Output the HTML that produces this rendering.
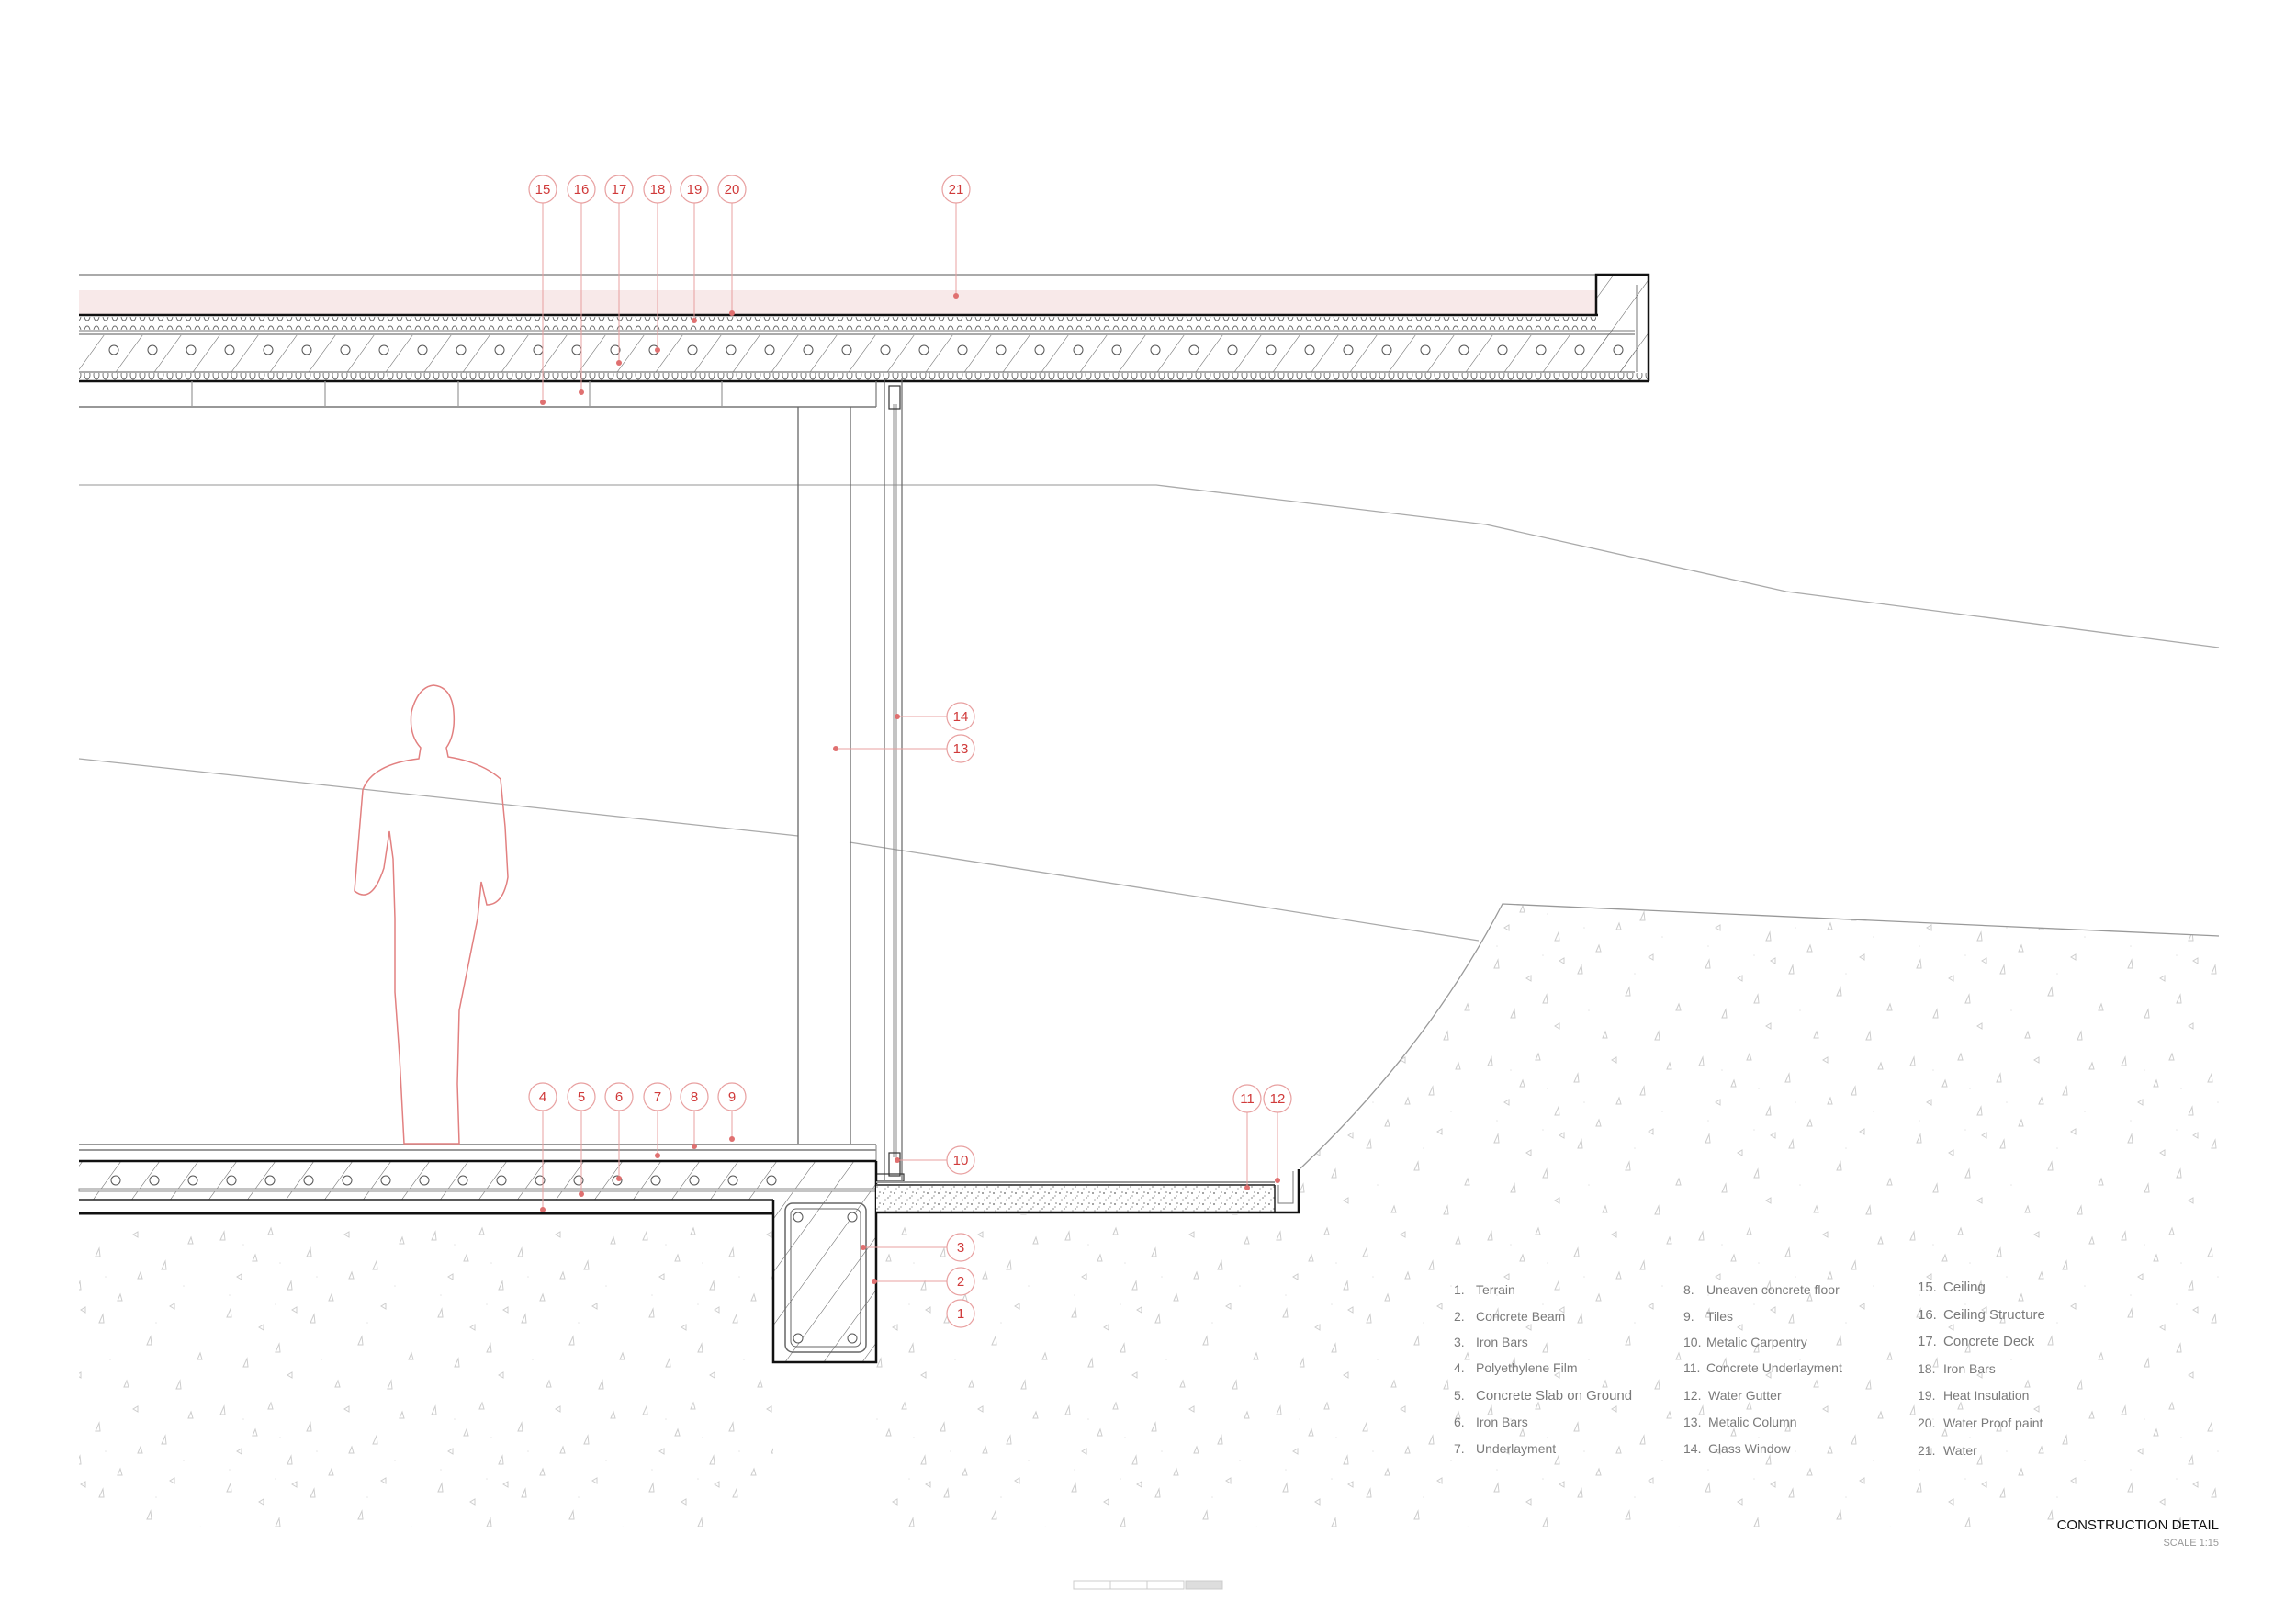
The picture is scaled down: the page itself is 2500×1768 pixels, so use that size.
<!DOCTYPE html>
<html><head><meta charset="utf-8"><style>
html,body{margin:0;padding:0;background:#fff}
svg{display:block}
.lg{font-family:"Liberation Sans",sans-serif;font-size:14px;fill:#7a7a7a}
.cn{font-family:"Liberation Sans",sans-serif;font-size:15px;fill:#d03a3a;text-anchor:middle}
</style></head><body>
<svg width="2500" height="1768" viewBox="0 0 2500 1768" xmlns="http://www.w3.org/2000/svg">
<defs>
<pattern id="hatch" width="42" height="40" patternUnits="userSpaceOnUse" patternTransform="skewX(-36)">
<line x1="0" y1="0" x2="0" y2="40" stroke="#555" stroke-width="1.2"/>
</pattern>
<pattern id="soil" width="230" height="190" patternUnits="userSpaceOnUse">
<g fill="none" stroke="#cdcdcd" stroke-width="1">
<path d="M10 20 l4 -9 l1 9 z"/><path d="M62 14 l3 -7 l2 7 z"/><path d="M104 38 l4 -9 l1 9 z"/>
<path d="M33 63 l-5 -3 l5 -3 z"/><path d="M83 74 l4 -9 l1 9 z"/><path d="M128 86 l3 -7 l2 7 z"/>
<path d="M17 104 l4 -9 l1 9 z"/><path d="M57 118 l-5 -3 l5 -3 z"/><path d="M108 110 l4 -9 l1 9 z"/>
<path d="M150 17 l-5 -3 l5 -3 z"/><path d="M45 43 l3 -7 l2 7 z"/><path d="M93 99 l-5 -3 l5 -3 z"/>
<path d="M176 52 l4 -9 l1 9 z"/><path d="M205 24 l3 -7 l2 7 z"/><path d="M190 95 l-5 -3 l5 -3 z"/>
<path d="M160 134 l4 -9 l1 9 z"/><path d="M215 150 l3 -7 l2 7 z"/><path d="M35 158 l4 -9 l1 9 z"/>
<path d="M88 170 l-5 -3 l5 -3 z"/><path d="M135 180 l3 -7 l2 7 z"/><path d="M192 182 l4 -9 l1 9 z"/>
<path d="M150 62 l3 -7 l2 7 z"/><path d="M70 142 l4 -9 l1 9 z"/>
</g>
<g fill="#e6e6e6"><circle cx="35" cy="25" r="0.8"/><circle cx="75" cy="45" r="0.8"/><circle cx="115" cy="60" r="0.8"/><circle cx="20" cy="80" r="0.8"/><circle cx="70" cy="90" r="0.8"/><circle cx="170" cy="110" r="0.8"/><circle cx="200" cy="70" r="0.8"/><circle cx="120" cy="150" r="0.8"/></g>
</pattern>
<pattern id="ins" width="10" height="16" patternUnits="userSpaceOnUse">
<ellipse cx="5" cy="8" rx="3" ry="5" fill="none" stroke="#666" stroke-width="0.9"/>
</pattern>
<pattern id="spk" width="12" height="12" patternUnits="userSpaceOnUse">
<rect width="12" height="12" fill="#fff"/>
<circle cx="2" cy="3" r="1" fill="#888"/><circle cx="7" cy="8" r="0.9" fill="#999"/><circle cx="10" cy="2" r="0.8" fill="#777"/><circle cx="4" cy="10" r="0.8" fill="#aaa"/><circle cx="9" cy="6" r="0.6" fill="#666"/>
</pattern>
</defs>

<!-- soil -->
<rect x="86" y="1322" width="756" height="340" fill="url(#soil)"/>
<rect x="954" y="1322" width="460" height="340" fill="url(#soil)"/>
<path d="M1416 1272 Q1555 1140 1636 984 L2416 1019 L2416 1662 L1414 1662 Z" fill="url(#soil)"/>

<!-- thin gray landscape lines -->
<polyline points="86,528 1259,528 1618,571 1945,644 2416,705" fill="none" stroke="#aaa" stroke-width="1.3"/>
<line x1="86" y1="826" x2="869" y2="910" stroke="#aaa" stroke-width="1.3"/>
<line x1="925" y1="917" x2="1610" y2="1024" stroke="#aaa" stroke-width="1.3"/>
<path d="M1416 1272 Q1555 1140 1636 984 L2416 1019" fill="none" stroke="#999" stroke-width="1.3"/>

<!-- ROOF -->
<line x1="86" y1="299" x2="1740" y2="299" stroke="#aaa" stroke-width="2"/>
<rect x="86" y="316" width="1652" height="26" fill="#f8e9e9"/>
<line x1="86" y1="343" x2="1740" y2="343" stroke="#111" stroke-width="2.5"/>
<rect x="86" y="345" width="1652" height="14" fill="url(#ins)"/>
<line x1="86" y1="360" x2="1780" y2="360" stroke="#777" stroke-width="1"/>
<line x1="86" y1="364" x2="1780" y2="364" stroke="#777" stroke-width="1.2"/>
<rect x="86" y="365" width="1694" height="40" fill="url(#hatch)"/>
<g fill="#fff" stroke="#555" stroke-width="1">
<circle cx="124" cy="381" r="5"/><circle cx="166" cy="381" r="5"/><circle cx="208" cy="381" r="5"/><circle cx="250" cy="381" r="5"/><circle cx="292" cy="381" r="5"/><circle cx="334" cy="381" r="5"/><circle cx="376" cy="381" r="5"/><circle cx="418" cy="381" r="5"/><circle cx="460" cy="381" r="5"/><circle cx="502" cy="381" r="5"/><circle cx="544" cy="381" r="5"/><circle cx="586" cy="381" r="5"/><circle cx="628" cy="381" r="5"/><circle cx="670" cy="381" r="5"/><circle cx="712" cy="381" r="5"/><circle cx="754" cy="381" r="5"/><circle cx="796" cy="381" r="5"/><circle cx="838" cy="381" r="5"/><circle cx="880" cy="381" r="5"/><circle cx="922" cy="381" r="5"/><circle cx="964" cy="381" r="5"/><circle cx="1006" cy="381" r="5"/><circle cx="1048" cy="381" r="5"/><circle cx="1090" cy="381" r="5"/><circle cx="1132" cy="381" r="5"/><circle cx="1174" cy="381" r="5"/><circle cx="1216" cy="381" r="5"/><circle cx="1258" cy="381" r="5"/><circle cx="1300" cy="381" r="5"/><circle cx="1342" cy="381" r="5"/><circle cx="1384" cy="381" r="5"/><circle cx="1426" cy="381" r="5"/><circle cx="1468" cy="381" r="5"/><circle cx="1510" cy="381" r="5"/><circle cx="1552" cy="381" r="5"/><circle cx="1594" cy="381" r="5"/><circle cx="1636" cy="381" r="5"/><circle cx="1678" cy="381" r="5"/><circle cx="1720" cy="381" r="5"/><circle cx="1762" cy="381" r="5"/>
</g>
<line x1="86" y1="405" x2="1780" y2="405" stroke="#777" stroke-width="1.2"/>
<rect x="86" y="406" width="1708" height="8" fill="url(#ins)"/>
<line x1="86" y1="415" x2="1795" y2="415" stroke="#111" stroke-width="2.5"/>
<!-- parapet -->
<rect x="1738" y="300" width="42" height="105" fill="url(#hatch)"/>
<rect x="1780" y="300" width="15" height="115" fill="url(#hatch)"/>
<polyline points="1738,343 1738,299 1795,299 1795,415" fill="none" stroke="#111" stroke-width="2.5"/>
<line x1="1782" y1="310" x2="1782" y2="405" stroke="#777" stroke-width="1"/>

<!-- ceiling -->
<line x1="86" y1="443" x2="954" y2="443" stroke="#777" stroke-width="1.5"/>
<line x1="954" y1="415" x2="954" y2="443" stroke="#777" stroke-width="1.2"/>
<g stroke="#999" stroke-width="1.2"><line x1="209" y1="415" x2="209" y2="443"/><line x1="354" y1="415" x2="354" y2="443"/><line x1="499" y1="415" x2="499" y2="443"/><line x1="642" y1="415" x2="642" y2="443"/><line x1="786" y1="415" x2="786" y2="443"/></g>

<!-- column -->
<line x1="869" y1="443" x2="869" y2="1246" stroke="#666" stroke-width="1.3"/>
<line x1="926" y1="443" x2="926" y2="1246" stroke="#666" stroke-width="1.3"/>
<!-- window -->
<line x1="963" y1="412" x2="963" y2="1285" stroke="#666" stroke-width="1.2"/>
<line x1="982" y1="412" x2="982" y2="1285" stroke="#666" stroke-width="1.2"/>
<line x1="973" y1="440" x2="973" y2="1260" stroke="#888" stroke-width="1"/>
<line x1="976" y1="440" x2="976" y2="1260" stroke="#888" stroke-width="1"/>
<rect x="968" y="420" width="12" height="25" fill="none" stroke="#333" stroke-width="1.2"/>
<rect x="968" y="1255" width="12" height="25" fill="none" stroke="#333" stroke-width="1.2"/>
<rect x="954" y="1278" width="30" height="8" fill="none" stroke="#333" stroke-width="1.2"/>

<!-- FLOOR -->
<line x1="86" y1="1246" x2="954" y2="1246" stroke="#999" stroke-width="2"/>
<line x1="86" y1="1252" x2="954" y2="1252" stroke="#999" stroke-width="2"/>
<line x1="954" y1="1246" x2="954" y2="1264" stroke="#999" stroke-width="1.2"/>
<rect x="86" y="1264" width="868" height="42" fill="url(#hatch)"/>
<g fill="#fff" stroke="#555" stroke-width="1">
<circle cx="126" cy="1285" r="5"/><circle cx="168" cy="1285" r="5"/><circle cx="210" cy="1285" r="5"/><circle cx="252" cy="1285" r="5"/><circle cx="294" cy="1285" r="5"/><circle cx="336" cy="1285" r="5"/><circle cx="378" cy="1285" r="5"/><circle cx="420" cy="1285" r="5"/><circle cx="462" cy="1285" r="5"/><circle cx="504" cy="1285" r="5"/><circle cx="546" cy="1285" r="5"/><circle cx="588" cy="1285" r="5"/><circle cx="630" cy="1285" r="5"/><circle cx="672" cy="1285" r="5"/><circle cx="714" cy="1285" r="5"/><circle cx="756" cy="1285" r="5"/><circle cx="798" cy="1285" r="5"/><circle cx="840" cy="1285" r="5"/>
</g>
<line x1="86" y1="1264" x2="954" y2="1264" stroke="#111" stroke-width="2.5"/>
<rect x="86" y="1294" width="868" height="3" fill="#fff" stroke="#888" stroke-width="1"/>
<line x1="86" y1="1306" x2="842" y2="1306" stroke="#222" stroke-width="1.5"/>
<line x1="86" y1="1321" x2="842" y2="1321" stroke="#111" stroke-width="3"/>
<!-- beam -->
<rect x="842" y="1306" width="112" height="177" fill="url(#hatch)"/>
<polyline points="842,1306 842,1483 954,1483 954,1264" fill="none" stroke="#111" stroke-width="2.5"/>
<rect x="855" y="1310" width="88" height="162" rx="8" fill="none" stroke="#666" stroke-width="1.5"/>
<rect x="861" y="1316" width="76" height="150" rx="6" fill="none" stroke="#666" stroke-width="1"/>
<g fill="#fff" stroke="#555" stroke-width="1"><circle cx="869" cy="1325" r="5"/><circle cx="928" cy="1325" r="5"/><circle cx="869" cy="1457" r="5"/><circle cx="928" cy="1457" r="5"/></g>
<!-- exterior underlayment -->
<rect x="954" y="1289" width="434" height="31" fill="url(#spk)"/>
<line x1="954" y1="1287" x2="1388" y2="1287" stroke="#999" stroke-width="2"/>
<line x1="954" y1="1290" x2="1388" y2="1290" stroke="#222" stroke-width="1.5"/>
<line x1="1388" y1="1290" x2="1388" y2="1320" stroke="#222" stroke-width="1.5"/>
<polyline points="954,1320 1414,1320 1414,1273" fill="none" stroke="#111" stroke-width="2.5"/>
<polyline points="1392,1290 1392,1310 1408,1310 1408,1275" fill="none" stroke="#777" stroke-width="1"/>

<!-- person -->
<g fill="none" stroke="#e28080" stroke-width="1.5">
<path d="M458,814 Q445,800 448,775 Q455,748 472,746 Q492,748 494,775 Q496,800 486,814 L488,824 Q525,830 545,848 L550,900 L553,955 Q548,985 530,985 L524,960 L520,1000 L508,1060 L500,1100 L498,1180 L500,1245 L440,1245 L435,1150 L430,1080 L430,1000 L428,935 L424,905 L418,945 Q405,985 386,970 L390,920 L395,860 Q405,832 456,826 Z"/>
</g>

<!-- callouts -->
<g stroke="#e8a0a0" stroke-width="1" fill="none">
<line x1="591" y1="221" x2="591" y2="438"/><line x1="633" y1="221" x2="633" y2="427"/><line x1="674" y1="221" x2="674" y2="395"/><line x1="716" y1="221" x2="716" y2="381"/><line x1="756" y1="221" x2="756" y2="349"/><line x1="797" y1="221" x2="797" y2="341"/><line x1="1041" y1="221" x2="1041" y2="322"/>
<line x1="591" y1="1209" x2="591" y2="1317"/><line x1="633" y1="1209" x2="633" y2="1300"/><line x1="674" y1="1209" x2="674" y2="1283"/><line x1="716" y1="1209" x2="716" y2="1258"/><line x1="756" y1="1209" x2="756" y2="1248"/><line x1="797" y1="1209" x2="797" y2="1240"/>
<line x1="1358" y1="1211" x2="1358" y2="1293"/><line x1="1391" y1="1211" x2="1391" y2="1285"/>
<line x1="977" y1="1263" x2="1031" y2="1263"/><line x1="977" y1="780" x2="1031" y2="780"/><line x1="910" y1="815" x2="1031" y2="815"/><line x1="940" y1="1358" x2="1031" y2="1358"/><line x1="952" y1="1395" x2="1031" y2="1395"/>
</g>
<g fill="#e07070">
<circle cx="591" cy="438" r="3"/><circle cx="633" cy="427" r="3"/><circle cx="674" cy="395" r="3"/><circle cx="716" cy="381" r="3"/><circle cx="756" cy="349" r="3"/><circle cx="797" cy="341" r="3"/><circle cx="1041" cy="322" r="3"/>
<circle cx="591" cy="1317" r="3"/><circle cx="633" cy="1300" r="3"/><circle cx="674" cy="1283" r="3"/><circle cx="716" cy="1258" r="3"/><circle cx="756" cy="1248" r="3"/><circle cx="797" cy="1240" r="3"/>
<circle cx="1358" cy="1293" r="3"/><circle cx="1391" cy="1285" r="3"/>
<circle cx="977" cy="1263" r="3"/><circle cx="977" cy="780" r="3"/><circle cx="910" cy="815" r="3"/><circle cx="940" cy="1358" r="3"/><circle cx="952" cy="1395" r="3"/>
</g>
<g fill="#fff" stroke="#e8a0a0" stroke-width="1.2">
<circle cx="591" cy="206" r="15"/><circle cx="633" cy="206" r="15"/><circle cx="674" cy="206" r="15"/><circle cx="716" cy="206" r="15"/><circle cx="756" cy="206" r="15"/><circle cx="797" cy="206" r="15"/><circle cx="1041" cy="206" r="15"/>
<circle cx="591" cy="1194" r="15"/><circle cx="633" cy="1194" r="15"/><circle cx="674" cy="1194" r="15"/><circle cx="716" cy="1194" r="15"/><circle cx="756" cy="1194" r="15"/><circle cx="797" cy="1194" r="15"/>
<circle cx="1358" cy="1196" r="15"/><circle cx="1391" cy="1196" r="15"/>
<circle cx="1046" cy="1263" r="15"/><circle cx="1046" cy="780" r="15"/><circle cx="1046" cy="815" r="15"/><circle cx="1046" cy="1358" r="15"/><circle cx="1046" cy="1395" r="15"/><circle cx="1046" cy="1430" r="15"/>
</g>
<g class="cn">
<text x="591" y="211">15</text><text x="633" y="211">16</text><text x="674" y="211">17</text><text x="716" y="211">18</text><text x="756" y="211">19</text><text x="797" y="211">20</text><text x="1041" y="211">21</text>
<text x="591" y="1199">4</text><text x="633" y="1199">5</text><text x="674" y="1199">6</text><text x="716" y="1199">7</text><text x="756" y="1199">8</text><text x="797" y="1199">9</text>
<text x="1358" y="1201">11</text><text x="1391" y="1201">12</text>
<text x="1046" y="1268">10</text><text x="1046" y="785">14</text><text x="1046" y="820">13</text><text x="1046" y="1363">3</text><text x="1046" y="1400">2</text><text x="1046" y="1435">1</text>
</g>

<!-- legend -->
<g class="lg">
<text x="1583" y="1409">1.</text><text x="1607" y="1409">Terrain</text>
<text x="1583" y="1438">2.</text><text x="1607" y="1438">Concrete Beam</text>
<text x="1583" y="1466">3.</text><text x="1607" y="1466">Iron Bars</text>
<text x="1583" y="1494">4.</text><text x="1607" y="1494">Polyethylene Film</text>
<text x="1583" y="1524">5.</text><text x="1607" y="1524" style="font-size:15px">Concrete Slab on Ground</text>
<text x="1583" y="1553">6.</text><text x="1607" y="1553">Iron Bars</text>
<text x="1583" y="1582">7.</text><text x="1607" y="1582">Underlayment</text>
<text x="1833" y="1409">8.</text><text x="1858" y="1409">Uneaven concrete floor</text>
<text x="1833" y="1438">9.</text><text x="1858" y="1438">Tiles</text>
<text x="1833" y="1466">10.</text><text x="1858" y="1466">Metalic Carpentry</text>
<text x="1833" y="1494">11.</text><text x="1858" y="1494">Concrete Underlayment</text>
<text x="1833" y="1524">12.</text><text x="1860" y="1524">Water Gutter</text>
<text x="1833" y="1553">13.</text><text x="1860" y="1553">Metalic Column</text>
<text x="1833" y="1582">14.</text><text x="1860" y="1582">Glass Window</text>
<text x="2088" y="1406" style="font-size:15px">15.</text><text x="2116" y="1406" style="font-size:15px">Ceiling</text>
<text x="2088" y="1436" style="font-size:15px">16.</text><text x="2116" y="1436" style="font-size:15px">Ceiling Structure</text>
<text x="2088" y="1465" style="font-size:15px">17.</text><text x="2116" y="1465" style="font-size:15px">Concrete Deck</text>
<text x="2088" y="1495">18.</text><text x="2116" y="1495">Iron Bars</text>
<text x="2088" y="1524">19.</text><text x="2116" y="1524">Heat Insulation</text>
<text x="2088" y="1554">20.</text><text x="2116" y="1554">Water Proof paint</text>
<text x="2088" y="1584">21.</text><text x="2116" y="1584">Water</text>
</g>
<text x="2416" y="1665" text-anchor="end" style="font-family:'Liberation Sans',sans-serif;font-size:15px;fill:#111">CONSTRUCTION DETAIL</text>
<text x="2416" y="1683" text-anchor="end" style="font-family:'Liberation Sans',sans-serif;font-size:11px;fill:#999">SCALE 1:15</text>

<!-- scale bar -->
<g stroke="#ccc" stroke-width="1" fill="none">
<rect x="1169" y="1721" width="40" height="9"/><rect x="1209" y="1721" width="40" height="9"/><rect x="1249" y="1721" width="40" height="9"/><rect x="1291" y="1721" width="40" height="9" fill="#ddd"/>
</g>
</svg>
</body></html>
